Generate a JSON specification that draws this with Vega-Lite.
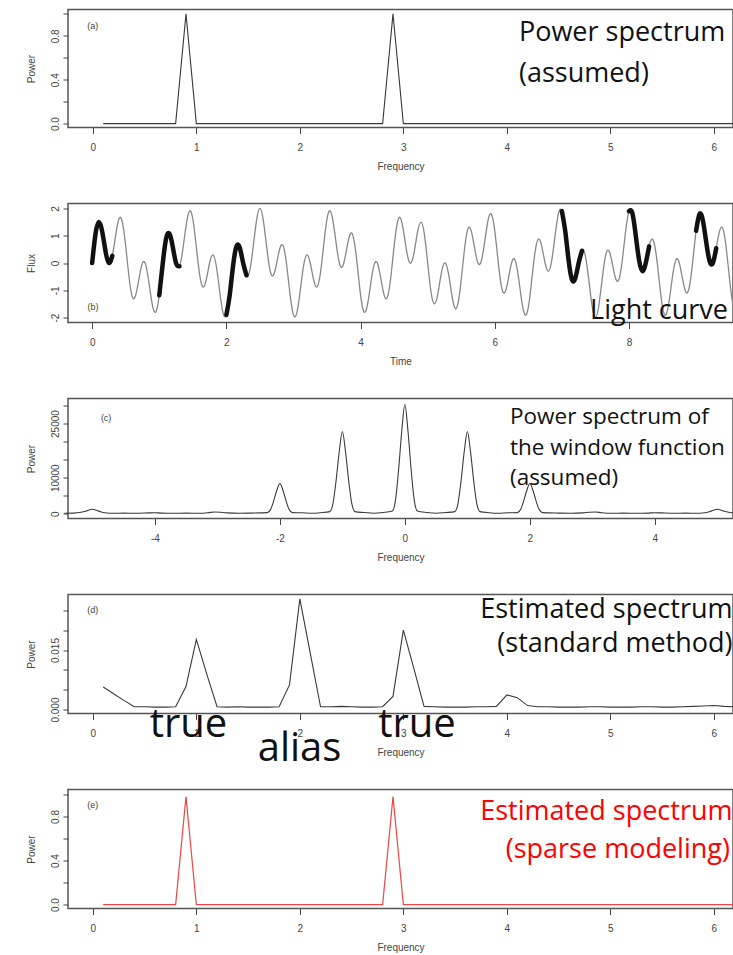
{
"$schema": "https://vega.github.io/schema/vega-lite/v6.json",
"padding": {"left": 25, "top": 8.5, "right": 0, "bottom": 0},
"bounds": "flush",
"spacing": 76,
"config": {
 "view": {"stroke": "#555", "strokeWidth": 1.5},
 "axis": {"labelFont": "Liberation Sans", "labelFontSize": 10, "labelColor": "#444", "titleFont": "Liberation Sans", "titleFontSize": 10, "titleFontWeight": "normal", "titleColor": "#444", "tickColor": "#444", "domain": false, "grid": false, "tickSize": 6},
 "axisX": {"labelPadding": 9, "titlePadding": 9, "labelAngle": 0},
 "axisY": {"labelAngle": -90, "labelAlign": "center", "labelBaseline": "bottom", "labelPadding": 3, "tickSize": 5, "minExtent": 20, "maxExtent": 20, "titlePadding": 12},
 "line": {"clip": true}
},
"datasets": {
 "spec_a": [{"f":0.1,"p":0},{"f":0.2,"p":0},{"f":0.3,"p":0},{"f":0.4,"p":0},{"f":0.5,"p":0},{"f":0.6,"p":0},{"f":0.7,"p":0},{"f":0.8,"p":0},{"f":0.9,"p":1},{"f":1.0,"p":0},{"f":1.1,"p":0},{"f":1.2,"p":0},{"f":1.3,"p":0},{"f":1.4,"p":0},{"f":1.5,"p":0},{"f":1.6,"p":0},{"f":1.7,"p":0},{"f":1.8,"p":0},{"f":1.9,"p":0},{"f":2.0,"p":0},{"f":2.1,"p":0},{"f":2.2,"p":0},{"f":2.3,"p":0},{"f":2.4,"p":0},{"f":2.5,"p":0},{"f":2.6,"p":0},{"f":2.7,"p":0},{"f":2.8,"p":0},{"f":2.9,"p":1},{"f":3.0,"p":0},{"f":3.1,"p":0},{"f":3.2,"p":0},{"f":3.3,"p":0},{"f":3.4,"p":0},{"f":3.5,"p":0},{"f":3.6,"p":0},{"f":3.7,"p":0},{"f":3.8,"p":0},{"f":3.9,"p":0},{"f":4.0,"p":0},{"f":4.1,"p":0},{"f":4.2,"p":0},{"f":4.3,"p":0},{"f":4.4,"p":0},{"f":4.5,"p":0},{"f":4.6,"p":0},{"f":4.7,"p":0},{"f":4.8,"p":0},{"f":4.9,"p":0},{"f":5.0,"p":0},{"f":5.1,"p":0},{"f":5.2,"p":0},{"f":5.3,"p":0},{"f":5.4,"p":0},{"f":5.5,"p":0},{"f":5.6,"p":0},{"f":5.7,"p":0},{"f":5.8,"p":0},{"f":5.9,"p":0},{"f":6.0,"p":0},{"f":6.1,"p":0},{"f":6.2,"p":0},{"f":6.3,"p":0}],
 "spec_e": [{"f":0.1,"p":0},{"f":0.2,"p":0},{"f":0.3,"p":0},{"f":0.4,"p":0},{"f":0.5,"p":0},{"f":0.6,"p":0},{"f":0.7,"p":0},{"f":0.8,"p":0},{"f":0.9,"p":0.98},{"f":1.0,"p":0},{"f":1.1,"p":0},{"f":1.2,"p":0},{"f":1.3,"p":0},{"f":1.4,"p":0},{"f":1.5,"p":0},{"f":1.6,"p":0},{"f":1.7,"p":0},{"f":1.8,"p":0},{"f":1.9,"p":0},{"f":2.0,"p":0},{"f":2.1,"p":0},{"f":2.2,"p":0},{"f":2.3,"p":0},{"f":2.4,"p":0},{"f":2.5,"p":0},{"f":2.6,"p":0},{"f":2.7,"p":0},{"f":2.8,"p":0},{"f":2.9,"p":0.98},{"f":3.0,"p":0},{"f":3.1,"p":0},{"f":3.2,"p":0},{"f":3.3,"p":0},{"f":3.4,"p":0},{"f":3.5,"p":0},{"f":3.6,"p":0},{"f":3.7,"p":0},{"f":3.8,"p":0},{"f":3.9,"p":0},{"f":4.0,"p":0},{"f":4.1,"p":0},{"f":4.2,"p":0},{"f":4.3,"p":0},{"f":4.4,"p":0},{"f":4.5,"p":0},{"f":4.6,"p":0},{"f":4.7,"p":0},{"f":4.8,"p":0},{"f":4.9,"p":0},{"f":5.0,"p":0},{"f":5.1,"p":0},{"f":5.2,"p":0},{"f":5.3,"p":0},{"f":5.4,"p":0},{"f":5.5,"p":0},{"f":5.6,"p":0},{"f":5.7,"p":0},{"f":5.8,"p":0},{"f":5.9,"p":0},{"f":6.0,"p":0},{"f":6.1,"p":0},{"f":6.2,"p":0},{"f":6.3,"p":0}],
 "spec_d": [{"f":0.1,"p":0.0057},{"f":0.2,"p":0.0040},{"f":0.3,"p":0.0023},{"f":0.4,"p":0.0007},{"f":0.5,"p":0.0007},{"f":0.6,"p":0.0006},{"f":0.7,"p":0.0006},{"f":0.8,"p":0.0007},{"f":0.9,"p":0.0058},{"f":1.0,"p":0.0177},{"f":1.1,"p":0.0090},{"f":1.2,"p":0.0007},{"f":1.3,"p":0.0006},{"f":1.4,"p":0.0007},{"f":1.5,"p":0.0006},{"f":1.6,"p":0.0006},{"f":1.7,"p":0.0006},{"f":1.8,"p":0.0007},{"f":1.9,"p":0.0062},{"f":2.0,"p":0.0279},{"f":2.1,"p":0.0143},{"f":2.2,"p":0.0007},{"f":2.3,"p":0.0007},{"f":2.4,"p":0.0008},{"f":2.5,"p":0.0007},{"f":2.6,"p":0.0006},{"f":2.7,"p":0.0006},{"f":2.8,"p":0.0007},{"f":2.9,"p":0.0033},{"f":3.0,"p":0.0200},{"f":3.1,"p":0.0105},{"f":3.2,"p":0.0008},{"f":3.3,"p":0.0007},{"f":3.4,"p":0.0006},{"f":3.5,"p":0.0006},{"f":3.6,"p":0.0006},{"f":3.7,"p":0.0007},{"f":3.8,"p":0.0007},{"f":3.9,"p":0.0008},{"f":4.0,"p":0.0037},{"f":4.1,"p":0.0030},{"f":4.2,"p":0.0010},{"f":4.3,"p":0.0007},{"f":4.4,"p":0.0007},{"f":4.5,"p":0.0006},{"f":4.6,"p":0.0006},{"f":4.7,"p":0.0006},{"f":4.8,"p":0.0007},{"f":4.9,"p":0.0007},{"f":5.0,"p":0.0006},{"f":5.1,"p":0.0006},{"f":5.2,"p":0.0006},{"f":5.3,"p":0.0007},{"f":5.4,"p":0.0007},{"f":5.5,"p":0.0006},{"f":5.6,"p":0.0006},{"f":5.7,"p":0.0007},{"f":5.8,"p":0.0008},{"f":5.9,"p":0.0009},{"f":6.0,"p":0.0010},{"f":6.1,"p":0.0008},{"f":6.2,"p":0.0007},{"f":6.3,"p":0.0007}],
 "window": [{"f":-5.45,"p":150},{"f":-5.3,"p":200},{"f":-5.2,"p":350},{"f":-5.1,"p":750},{"f":-5.0,"p":1250},{"f":-4.9,"p":750},{"f":-4.8,"p":300},{"f":-4.65,"p":150},{"f":-4.5,"p":200},{"f":-4.3,"p":150},{"f":-4.1,"p":250},{"f":-4.0,"p":300},{"f":-3.9,"p":200},{"f":-3.7,"p":150},{"f":-3.5,"p":200},{"f":-3.3,"p":150},{"f":-3.15,"p":300},{"f":-3.05,"p":500},{"f":-2.95,"p":450},{"f":-2.85,"p":250},{"f":-2.65,"p":150},{"f":-2.45,"p":200},{"f":-2.3,"p":250},{"f":-2.2,"p":320},{"f":-2.15,"p":1160},{"f":-2.1,"p":3510},{"f":-2.05,"p":6450},{"f":-2.0,"p":8400},{"f":-1.95,"p":6450},{"f":-1.9,"p":3510},{"f":-1.85,"p":1160},{"f":-1.8,"p":320},{"f":-1.65,"p":300},{"f":-1.5,"p":150},{"f":-1.35,"p":300},{"f":-1.2,"p":610},{"f":-1.15,"p":2890},{"f":-1.1,"p":9270},{"f":-1.05,"p":17250},{"f":-1.0,"p":22800},{"f":-0.95,"p":17250},{"f":-0.9,"p":9270},{"f":-0.85,"p":2890},{"f":-0.8,"p":610},{"f":-0.65,"p":350},{"f":-0.5,"p":150},{"f":-0.35,"p":350},{"f":-0.2,"p":760},{"f":-0.15,"p":3790},{"f":-0.1,"p":12270},{"f":-0.05,"p":22880},{"f":0,"p":30300},{"f":0.05,"p":22880},{"f":0.1,"p":12270},{"f":0.15,"p":3790},{"f":0.2,"p":760},{"f":0.35,"p":350},{"f":0.5,"p":150},{"f":0.65,"p":350},{"f":0.8,"p":610},{"f":0.85,"p":2890},{"f":0.9,"p":9270},{"f":0.95,"p":17250},{"f":1.0,"p":22800},{"f":1.05,"p":17250},{"f":1.1,"p":9270},{"f":1.15,"p":2890},{"f":1.2,"p":610},{"f":1.35,"p":300},{"f":1.5,"p":150},{"f":1.65,"p":300},{"f":1.8,"p":320},{"f":1.85,"p":1160},{"f":1.9,"p":3510},{"f":1.95,"p":6450},{"f":2.0,"p":8400},{"f":2.05,"p":6450},{"f":2.1,"p":3510},{"f":2.15,"p":1160},{"f":2.2,"p":320},{"f":2.3,"p":250},{"f":2.45,"p":200},{"f":2.65,"p":150},{"f":2.85,"p":250},{"f":2.95,"p":450},{"f":3.05,"p":500},{"f":3.15,"p":300},{"f":3.3,"p":150},{"f":3.5,"p":200},{"f":3.7,"p":150},{"f":3.9,"p":200},{"f":4.0,"p":300},{"f":4.1,"p":250},{"f":4.3,"p":150},{"f":4.5,"p":200},{"f":4.65,"p":150},{"f":4.8,"p":300},{"f":4.9,"p":750},{"f":5.0,"p":1250},{"f":5.1,"p":750},{"f":5.2,"p":350},{"f":5.3,"p":200},{"f":5.45,"p":150}],
 "curve": [{"t":0.00,"flux":0.00,"obs":1},{"t":0.05,"flux":1.07,"obs":1},{"t":0.10,"flux":1.50,"obs":1},{"t":0.15,"flux":1.15,"obs":1},{"t":0.20,"flux":0.42,"obs":1},{"t":0.25,"flux":0.00,"obs":1},{"t":0.30,"flux":0.26,"obs":1},{"t":0.35,"flux":1.01,"obs":0},{"t":0.40,"flux":1.62,"obs":0},{"t":0.45,"flux":1.50,"obs":0},{"t":0.50,"flux":0.62,"obs":0},{"t":0.55,"flux":-0.53,"obs":0},{"t":0.60,"flux":-1.25,"obs":0},{"t":0.65,"flux":-1.17,"obs":0},{"t":0.70,"flux":-0.54,"obs":0},{"t":0.75,"flux":0.00,"obs":0},{"t":0.80,"flux":-0.08,"obs":0},{"t":0.85,"flux":-0.78,"obs":0},{"t":0.90,"flux":-1.57,"obs":0},{"t":0.95,"flux":-1.79,"obs":0},{"t":1.00,"flux":-1.18,"obs":2},{"t":1.05,"flux":-0.06,"obs":2},{"t":1.10,"flux":0.87,"obs":2},{"t":1.15,"flux":1.08,"obs":2},{"t":1.20,"flux":0.61,"obs":2},{"t":1.25,"flux":0.00,"obs":2},{"t":1.30,"flux":-0.12,"obs":2},{"t":1.35,"flux":0.47,"obs":0},{"t":1.40,"flux":1.37,"obs":0},{"t":1.45,"flux":1.90,"obs":0},{"t":1.50,"flux":1.62,"obs":0},{"t":1.55,"flux":0.64,"obs":0},{"t":1.60,"flux":-0.40,"obs":0},{"t":1.65,"flux":-0.88,"obs":0},{"t":1.70,"flux":-0.61,"obs":0},{"t":1.75,"flux":0.00,"obs":0},{"t":1.80,"flux":0.30,"obs":0},{"t":1.85,"flux":-0.11,"obs":0},{"t":1.90,"flux":-1.03,"obs":0},{"t":1.95,"flux":-1.83,"obs":0},{"t":2.00,"flux":-1.90,"obs":3},{"t":2.05,"flux":-1.17,"obs":3},{"t":2.10,"flux":-0.10,"obs":3},{"t":2.15,"flux":0.60,"obs":3},{"t":2.20,"flux":0.56,"obs":3},{"t":2.25,"flux":0.00,"obs":3},{"t":2.30,"flux":-0.45,"obs":3},{"t":2.35,"flux":-0.26,"obs":0},{"t":2.40,"flux":0.60,"obs":0},{"t":2.45,"flux":1.57,"obs":0},{"t":2.50,"flux":2.00,"obs":0},{"t":2.55,"flux":1.57,"obs":0},{"t":2.60,"flux":0.60,"obs":0},{"t":2.65,"flux":-0.26,"obs":0},{"t":2.70,"flux":-0.45,"obs":0},{"t":2.75,"flux":0.00,"obs":0},{"t":2.80,"flux":0.56,"obs":0},{"t":2.85,"flux":0.60,"obs":0},{"t":2.90,"flux":-0.10,"obs":0},{"t":2.95,"flux":-1.17,"obs":0},{"t":3.00,"flux":-1.90,"obs":0},{"t":3.05,"flux":-1.83,"obs":0},{"t":3.10,"flux":-1.03,"obs":0},{"t":3.15,"flux":-0.11,"obs":0},{"t":3.20,"flux":0.30,"obs":0},{"t":3.25,"flux":0.00,"obs":0},{"t":3.30,"flux":-0.61,"obs":0},{"t":3.35,"flux":-0.88,"obs":0},{"t":3.40,"flux":-0.40,"obs":0},{"t":3.45,"flux":0.64,"obs":0},{"t":3.50,"flux":1.62,"obs":0},{"t":3.55,"flux":1.90,"obs":0},{"t":3.60,"flux":1.37,"obs":0},{"t":3.65,"flux":0.47,"obs":0},{"t":3.70,"flux":-0.12,"obs":0},{"t":3.75,"flux":0.00,"obs":0},{"t":3.80,"flux":0.61,"obs":0},{"t":3.85,"flux":1.08,"obs":0},{"t":3.90,"flux":0.87,"obs":0},{"t":3.95,"flux":-0.06,"obs":0},{"t":4.00,"flux":-1.18,"obs":0},{"t":4.05,"flux":-1.79,"obs":0},{"t":4.10,"flux":-1.57,"obs":0},{"t":4.15,"flux":-0.78,"obs":0},{"t":4.20,"flux":-0.08,"obs":0},{"t":4.25,"flux":0.00,"obs":0},{"t":4.30,"flux":-0.54,"obs":0},{"t":4.35,"flux":-1.17,"obs":0},{"t":4.40,"flux":-1.25,"obs":0},{"t":4.45,"flux":-0.53,"obs":0},{"t":4.50,"flux":0.62,"obs":0},{"t":4.55,"flux":1.50,"obs":0},{"t":4.60,"flux":1.62,"obs":0},{"t":4.65,"flux":1.01,"obs":0},{"t":4.70,"flux":0.26,"obs":0},{"t":4.75,"flux":0.00,"obs":0},{"t":4.80,"flux":0.42,"obs":0},{"t":4.85,"flux":1.15,"obs":0},{"t":4.90,"flux":1.50,"obs":0},{"t":4.95,"flux":1.07,"obs":0},{"t":5.00,"flux":0.00,"obs":0},{"t":5.05,"flux":-1.07,"obs":0},{"t":5.10,"flux":-1.50,"obs":0},{"t":5.15,"flux":-1.15,"obs":0},{"t":5.20,"flux":-0.42,"obs":0},{"t":5.25,"flux":0.00,"obs":0},{"t":5.30,"flux":-0.26,"obs":0},{"t":5.35,"flux":-1.01,"obs":0},{"t":5.40,"flux":-1.62,"obs":0},{"t":5.45,"flux":-1.50,"obs":0},{"t":5.50,"flux":-0.62,"obs":0},{"t":5.55,"flux":0.53,"obs":0},{"t":5.60,"flux":1.25,"obs":0},{"t":5.65,"flux":1.17,"obs":0},{"t":5.70,"flux":0.54,"obs":0},{"t":5.75,"flux":0.00,"obs":0},{"t":5.80,"flux":0.08,"obs":0},{"t":5.85,"flux":0.78,"obs":0},{"t":5.90,"flux":1.57,"obs":0},{"t":5.95,"flux":1.79,"obs":0},{"t":6.00,"flux":1.18,"obs":0},{"t":6.05,"flux":0.06,"obs":0},{"t":6.10,"flux":-0.87,"obs":0},{"t":6.15,"flux":-1.08,"obs":0},{"t":6.20,"flux":-0.61,"obs":0},{"t":6.25,"flux":0.00,"obs":0},{"t":6.30,"flux":0.12,"obs":0},{"t":6.35,"flux":-0.47,"obs":0},{"t":6.40,"flux":-1.37,"obs":0},{"t":6.45,"flux":-1.90,"obs":0},{"t":6.50,"flux":-1.62,"obs":0},{"t":6.55,"flux":-0.64,"obs":0},{"t":6.60,"flux":0.40,"obs":0},{"t":6.65,"flux":0.88,"obs":0},{"t":6.70,"flux":0.61,"obs":0},{"t":6.75,"flux":0.00,"obs":0},{"t":6.80,"flux":-0.30,"obs":0},{"t":6.85,"flux":0.11,"obs":0},{"t":6.90,"flux":1.03,"obs":0},{"t":6.95,"flux":1.83,"obs":0},{"t":7.00,"flux":1.90,"obs":4},{"t":7.05,"flux":1.17,"obs":4},{"t":7.10,"flux":0.10,"obs":4},{"t":7.15,"flux":-0.60,"obs":4},{"t":7.20,"flux":-0.56,"obs":4},{"t":7.25,"flux":0.00,"obs":4},{"t":7.30,"flux":0.45,"obs":4},{"t":7.35,"flux":0.26,"obs":0},{"t":7.40,"flux":-0.60,"obs":0},{"t":7.45,"flux":-1.57,"obs":0},{"t":7.50,"flux":-2.00,"obs":0},{"t":7.55,"flux":-1.57,"obs":0},{"t":7.60,"flux":-0.60,"obs":0},{"t":7.65,"flux":0.26,"obs":0},{"t":7.70,"flux":0.45,"obs":0},{"t":7.75,"flux":0.00,"obs":0},{"t":7.80,"flux":-0.56,"obs":0},{"t":7.85,"flux":-0.60,"obs":0},{"t":7.90,"flux":0.10,"obs":0},{"t":7.95,"flux":1.17,"obs":0},{"t":8.00,"flux":1.90,"obs":5},{"t":8.05,"flux":1.83,"obs":5},{"t":8.10,"flux":1.03,"obs":5},{"t":8.15,"flux":0.11,"obs":5},{"t":8.20,"flux":-0.30,"obs":5},{"t":8.25,"flux":0.00,"obs":5},{"t":8.30,"flux":0.61,"obs":5},{"t":8.35,"flux":0.88,"obs":0},{"t":8.40,"flux":0.40,"obs":0},{"t":8.45,"flux":-0.64,"obs":0},{"t":8.50,"flux":-1.62,"obs":0},{"t":8.55,"flux":-1.90,"obs":0},{"t":8.60,"flux":-1.37,"obs":0},{"t":8.65,"flux":-0.47,"obs":0},{"t":8.70,"flux":0.12,"obs":0},{"t":8.75,"flux":0.00,"obs":0},{"t":8.80,"flux":-0.61,"obs":0},{"t":8.85,"flux":-1.08,"obs":0},{"t":8.90,"flux":-0.87,"obs":0},{"t":8.95,"flux":0.06,"obs":0},{"t":9.00,"flux":1.18,"obs":6},{"t":9.05,"flux":1.79,"obs":6},{"t":9.10,"flux":1.57,"obs":6},{"t":9.15,"flux":0.78,"obs":6},{"t":9.20,"flux":0.08,"obs":6},{"t":9.25,"flux":0.00,"obs":6},{"t":9.30,"flux":0.54,"obs":6},{"t":9.35,"flux":1.17,"obs":0},{"t":9.40,"flux":1.25,"obs":0},{"t":9.45,"flux":0.53,"obs":0},{"t":9.50,"flux":-0.62,"obs":0},{"t":9.55,"flux":-1.50,"obs":0},{"t":9.60,"flux":-1.62,"obs":0}]
},
"vconcat": [
 {
  "width": 665, "height": 118,
  "encoding": {
   "x": {"field": "f", "type": "quantitative", "scale": {"domain": [-0.24, 6.185], "nice": false, "zero": false}, "axis": {"title": "Frequency", "values": [0,1,2,3,4,5,6]}},
   "y": {"field": "p", "type": "quantitative", "scale": {"domain": [-0.035, 1.04], "nice": false, "zero": false}, "axis": {"title": "Power", "values": [0,0.2,0.4,0.6,0.8,1.0], "labelExpr": "round(datum.value*10)%4==0 ? format(datum.value,'.1f') : ''"}}
  },
  "layer": [
   {"data": {"name": "spec_a"}, "mark": {"type": "line", "color": "#3a3a3a", "strokeWidth": 1.1}},
   {"data": {"values": [{"f": 4.117, "p": 0.751, "label": "Power spectrum"}, {"f": 4.117, "p": 0.375, "label": "(assumed)"}]}, "mark": {"type": "text", "font": "Open Sans", "fontSize": 27, "align": "left", "baseline": "alphabetic", "color": "#111"}, "encoding": {"text": {"field": "label"}}},
   {"data": {"values": [{"f": 0.0, "p": 0.894, "label": "(a)"}]}, "mark": {"type": "text", "font": "Liberation Sans", "fontSize": 9, "align": "center", "baseline": "middle", "color": "#444"}, "encoding": {"text": {"field": "label"}}}
  ]
 },
 {
  "width": 665, "height": 119,
  "encoding": {
   "x": {"field": "t", "type": "quantitative", "scale": {"domain": [-0.36, 9.55], "nice": false, "zero": false}, "axis": {"title": "Time", "values": [0,2,4,6,8]}},
   "y": {"field": "flux", "type": "quantitative", "scale": {"domain": [-2.18, 2.18], "nice": false, "zero": false}, "axis": {"title": "Flux", "values": [-2,-1,0,1,2], "labelExpr": "replace(format(datum.value,'d'),'\u2212','-')"}}
  },
  "layer": [
   {"data": {"name": "curve"}, "mark": {"type": "line", "color": "#888", "strokeWidth": 1.3, "interpolate": "natural"}},
   {"data": {"name": "curve"}, "transform": [{"filter": "datum.obs > 0"}], "mark": {"type": "line", "color": "#111", "strokeWidth": 4.5, "interpolate": "natural", "strokeCap": "round"}, "encoding": {"detail": {"field": "obs"}}},
   {"data": {"values": [{"t": 9.476, "flux": -2.034, "label": "Light curve"}]}, "mark": {"type": "text", "font": "Open Sans", "fontSize": 27, "align": "right", "baseline": "alphabetic", "color": "#111"}, "encoding": {"text": {"field": "label"}}},
   {"data": {"values": [{"t": 0.013, "flux": -1.594, "label": "(b)"}]}, "mark": {"type": "text", "font": "Liberation Sans", "fontSize": 9, "align": "center", "baseline": "middle", "color": "#444"}, "encoding": {"text": {"field": "label"}}}
  ]
 },
 {
  "width": 665, "height": 120,
  "encoding": {
   "x": {"field": "f", "type": "quantitative", "scale": {"domain": [-5.39, 5.25], "nice": false, "zero": false}, "axis": {"title": "Frequency", "values": [-4,-2,0,2,4], "labelExpr": "replace(format(datum.value,'d'),'\u2212','-')"}},
   "y": {"field": "p", "type": "quantitative", "scale": {"domain": [-1300, 31950], "nice": false, "zero": false}, "axis": {"title": "Power", "values": [0,5000,10000,15000,20000,25000,30000], "labelExpr": "datum.value==0||datum.value==10000||datum.value==25000 ? format(datum.value,'d') : ''"}}
  },
  "layer": [
   {"data": {"name": "window"}, "mark": {"type": "line", "color": "#3a3a3a", "strokeWidth": 1.1, "interpolate": "monotone"}},
   {"data": {"values": [{"f": 1.682, "p": 25020, "label": "Power spectrum of"}, {"f": 1.682, "p": 16430, "label": "the window function"}, {"f": 1.682, "p": 8120, "label": "(assumed)"}]}, "mark": {"type": "text", "font": "Open Sans", "fontSize": 22.5, "align": "left", "baseline": "alphabetic", "color": "#111"}, "encoding": {"text": {"field": "label"}}},
   {"data": {"values": [{"f": -4.78, "p": 26685, "label": "(c)"}]}, "mark": {"type": "text", "font": "Liberation Sans", "fontSize": 9, "align": "center", "baseline": "middle", "color": "#444"}, "encoding": {"text": {"field": "label"}}}
  ]
 },
 {
  "width": 665, "height": 119,
  "encoding": {
   "x": {"field": "f", "type": "quantitative", "scale": {"domain": [-0.24, 6.185], "nice": false, "zero": false}, "axis": {"title": "Frequency", "values": [0,1,2,3,4,5,6]}},
   "y": {"field": "p", "type": "quantitative", "scale": {"domain": [-0.001, 0.029], "nice": false, "zero": false}, "axis": {"title": "Power", "values": [0,0.005,0.01,0.015,0.02,0.025], "labelExpr": "round(datum.value*1000)==0||round(datum.value*1000)==15 ? format(datum.value,'.3f') : ''"}}
  },
  "layer": [
   {"data": {"name": "spec_d"}, "mark": {"type": "line", "color": "#3a3a3a", "strokeWidth": 1.1}},
   {"data": {"values": [{"f": 6.18, "p": 0.02295, "label": "Estimated spectrum"}, {"f": 6.18, "p": 0.01463, "label": "(standard method)"}]}, "mark": {"type": "text", "font": "Open Sans", "fontSize": 27, "align": "right", "baseline": "alphabetic", "color": "#111"}, "encoding": {"text": {"field": "label"}}},
   {"data": {"values": [{"f": 0.924, "p": -0.00705, "label": "true"}, {"f": 1.997, "p": -0.01285, "label": "alias"}, {"f": 3.132, "p": -0.00705, "label": "true"}]}, "mark": {"type": "text", "font": "Open Sans", "fontSize": 40, "align": "center", "baseline": "alphabetic", "color": "#111"}, "encoding": {"text": {"field": "label"}}},
   {"data": {"values": [{"f": 0.0, "p": 0.025, "label": "(d)"}]}, "mark": {"type": "text", "font": "Liberation Sans", "fontSize": 9, "align": "center", "baseline": "middle", "color": "#444"}, "encoding": {"text": {"field": "label"}}}
  ]
 },
 {
  "width": 665, "height": 119,
  "encoding": {
   "x": {"field": "f", "type": "quantitative", "scale": {"domain": [-0.24, 6.185], "nice": false, "zero": false}, "axis": {"title": "Frequency", "values": [0,1,2,3,4,5,6]}},
   "y": {"field": "p", "type": "quantitative", "scale": {"domain": [-0.035, 1.045], "nice": false, "zero": false}, "axis": {"title": "Power", "values": [0,0.2,0.4,0.6,0.8,1.0], "labelExpr": "round(datum.value*10)%4==0 ? format(datum.value,'.1f') : ''"}}
  },
  "layer": [
   {"data": {"name": "spec_e"}, "mark": {"type": "line", "color": "#ec4646", "strokeWidth": 1.2}},
   {"data": {"values": [{"f": 6.18, "p": 0.764, "label": "Estimated spectrum"}, {"f": 6.155, "p": 0.419, "label": "(sparse modeling)"}]}, "mark": {"type": "text", "font": "Open Sans", "fontSize": 27, "align": "right", "baseline": "alphabetic", "color": "#ff0000"}, "encoding": {"text": {"field": "label"}}},
   {"data": {"values": [{"f": 0.0, "p": 0.9, "label": "(e)"}]}, "mark": {"type": "text", "font": "Liberation Sans", "fontSize": 9, "align": "center", "baseline": "middle", "color": "#444"}, "encoding": {"text": {"field": "label"}}}
  ]
 }
]
}
